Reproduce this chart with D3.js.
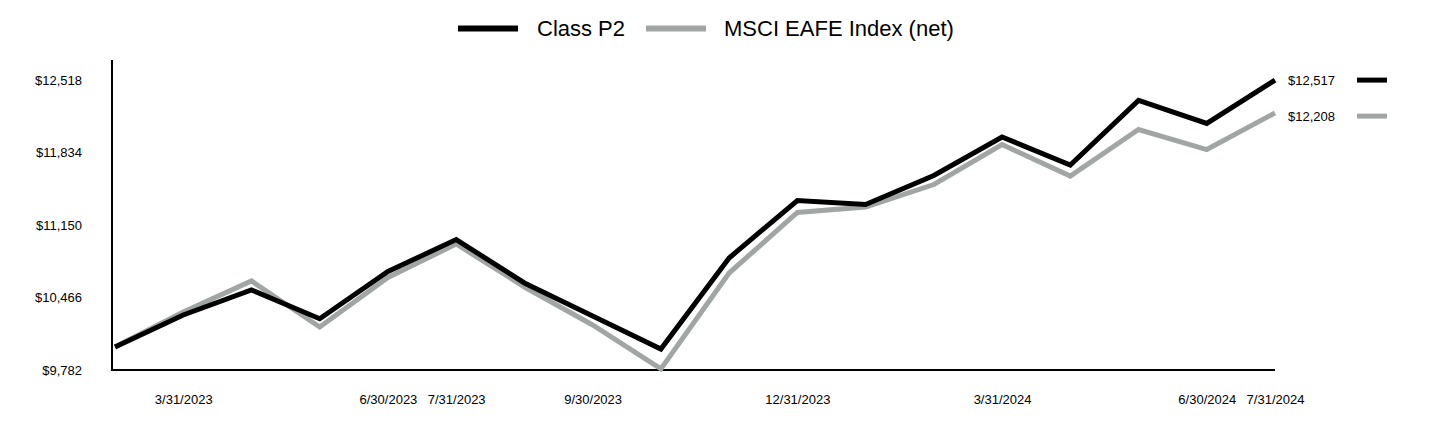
<!DOCTYPE html>
<html>
<head>
<meta charset="utf-8">
<script src="https://cdn.jsdelivr.net/npm/d3@7"></script>
<style>
  html, body { margin: 0; padding: 0; background: #fff; }
  svg { display: block; font-family: "Liberation Sans", Arial, sans-serif; }
</style>
</head>
<body>
<svg id="chart" width="1440" height="432"></svg>
<script>
const dates = ["2/28/2023","3/31/2023","4/30/2023","5/31/2023","6/30/2023","7/31/2023","8/31/2023","9/30/2023","10/31/2023","11/30/2023","12/31/2023","1/31/2024","2/29/2024","3/31/2024","4/30/2024","5/31/2024","6/30/2024","7/31/2024"];
const classP2 = [10000,10301,10537,10266,10711,11013,10603,10291,9980,10839,11381,11343,11617,11980,11716,12325,12108,12517];
const msciEafe = [10000,10329,10622,10188,10655,10971,10565,10207,9792,10697,11268,11320,11532,11909,11612,12051,11862,12208];
const yTicks = [9782,10466,11150,11834,12518];
const xTickLabels = ["3/31/2023","6/30/2023","7/31/2023","9/30/2023","12/31/2023","3/31/2024","6/30/2024","7/31/2024"];
const seriesNames = ["Class P2","MSCI EAFE Index (net)"];

const colors = ["#000000", "#a1a6a4"];
const svg = d3.select("#chart");
const x = d3.scalePoint().domain(dates).range([115, 1275]);
const y = d3.scaleLinear().domain([9782, 12518]).range([370, 80]);
const fmt = v => "$" + d3.format(",")(v);

// Y axis
const yAxis = svg.append("g").attr("transform", "translate(112,0)")
  .call(d3.axisLeft(y).tickValues(yTicks).tickFormat(fmt).tickSize(0).tickPadding(30));
yAxis.select(".domain").remove();
yAxis.selectAll("text").attr("font-size", 13).attr("fill", "#000").attr("font-family", "Liberation Sans, Arial, sans-serif");
svg.append("line").attr("x1", 112).attr("x2", 112).attr("y1", 60).attr("y2", 371)
  .attr("stroke", "#000").attr("stroke-width", 2);

// X axis
const xAxis = svg.append("g").attr("transform", "translate(0,370)")
  .call(d3.axisBottom(x).tickValues(xTickLabels).tickSize(0).tickPadding(25));
xAxis.select(".domain").remove();
xAxis.selectAll("text").attr("font-size", 13).attr("fill", "#000").attr("font-family", "Liberation Sans, Arial, sans-serif");
svg.append("line").attr("x1", 111).attr("x2", x.range()[1]).attr("y1", 370).attr("y2", 370)
  .attr("stroke", "#000").attr("stroke-width", 2);

// Lines
const line = d3.line().x((d, i) => x(dates[i])).y(d => y(d));
const allSeries = [msciEafe, classP2];
const allColors = [colors[1], colors[0]];
allSeries.forEach((s, k) => {
  svg.append("path").datum(s).attr("d", line).attr("fill", "none")
    .attr("stroke", allColors[k]).attr("stroke-width", 5).attr("stroke-linejoin", "miter");
});

// End labels
const ends = [classP2[classP2.length - 1], msciEafe[msciEafe.length - 1]];
let prevY = -Infinity;
ends.forEach((v, k) => {
  let ly = Math.max(y(v), prevY + 36);
  prevY = ly;
  svg.append("text").attr("x", 1288).attr("y", ly).attr("dy", "0.35em")
    .attr("font-size", 13).text(fmt(v));
  svg.append("line").attr("x1", 1357).attr("x2", 1387).attr("y1", ly).attr("y2", ly)
    .attr("stroke", colors[k]).attr("stroke-width", 5);
});

// Legend
const legendY = 28.5;
const leg = [{x: 458, tx: 537}, {x: 646, tx: 724}];
seriesNames.forEach((n, k) => {
  svg.append("line").attr("x1", leg[k].x).attr("x2", leg[k].x + 60).attr("y1", legendY).attr("y2", legendY)
    .attr("stroke", colors[k]).attr("stroke-width", 6);
  svg.append("text").attr("x", leg[k].tx).attr("y", legendY).attr("dy", "0.35em")
    .attr("font-size", 22).text(n);
});
</script>
</body>
</html>
